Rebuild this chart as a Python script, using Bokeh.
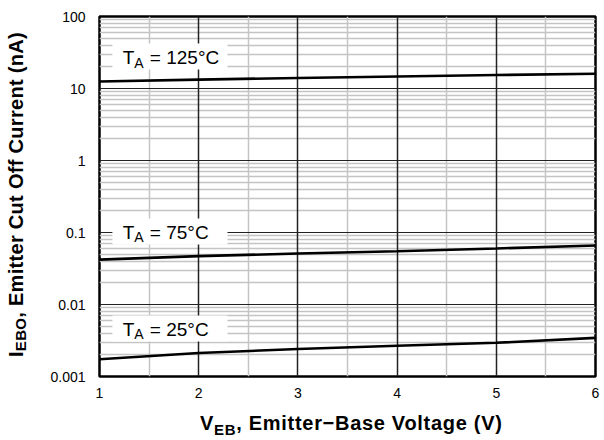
import math
from bokeh.plotting import figure
from bokeh.models import FixedTicker, Grid, Label, BoxAnnotation, Div
from bokeh.layouts import row, column
from bokeh.embed import file_html
from bokeh.resources import INLINE

# ---------------- data ----------------
v_eb = [1, 2, 3, 4, 5, 6]
i_125 = [12.5, 13.3, 14.0, 14.7, 15.4, 16.0]
i_75 = [0.042, 0.047, 0.051, 0.055, 0.060, 0.066]
i_25 = [0.00174, 0.00212, 0.00241, 0.00267, 0.00294, 0.00344]
temp_labels = ["125°C", "75°C", "25°C"]

x_ticks = [1, 2, 3, 4, 5, 6]
x_tick_labels = ["1", "2", "3", "4", "5", "6"]
y_ticks = [0.001, 0.01, 0.1, 1, 10, 100]
y_tick_labels = ["0.001", "0.01", "0.1", "1", "10", "100"]
x_minor = [1.5, 2.5, 3.5, 4.5, 5.5]
y_minor = [m * d for d in [0.001, 0.01, 0.1, 1, 10] for m in range(2, 10)]

x_title_main, x_title_sub, x_title_rest = "V", "EB", ", Emitter\u2212Base Voltage (V)"
y_title_main, y_title_sub, y_title_rest = "I", "EBO", ", Emitter Cut Off Current (nA)"

FONT = "Liberation Sans"
CSS_FONT = "'Liberation Sans', Arial, Helvetica, sans-serif"

YW = 32
PW = 604 - YW
p = figure(width=PW, height=410, x_range=(1, 6), y_range=(0.001, 100),
           y_axis_type="log", output_backend="svg", toolbar_location=None,
           min_border_left=99 - YW, min_border_right=9, min_border_top=16,
           min_border_bottom=34)
p.grid.visible = False
p.outline_line_color = "black"
p.outline_line_width = 2.5
p.background_fill_color = "white"
p.border_fill_color = "white"

for ax, ticks, labels in [(p.xaxis[0], x_ticks, x_tick_labels), (p.yaxis[0], y_ticks, y_tick_labels)]:
    ax.ticker = FixedTicker(ticks=ticks)
    ax.major_label_overrides = {t: l for t, l in zip(ticks, labels)}
    ax.axis_line_color = None
    ax.major_tick_in = 0
    ax.major_tick_out = 0
    ax.minor_tick_in = 0
    ax.minor_tick_out = 0
    ax.major_label_text_font = FONT
    ax.major_label_text_font_size = "14px"
    ax.major_label_text_color = "black"
    ax.axis_label = None
p.xaxis.major_label_standoff = 11
p.yaxis.major_label_standoff = 14

# grids: minor gray first, then major black
p.add_layout(Grid(dimension=0, ticker=FixedTicker(ticks=x_minor), grid_line_color="#c4c4c4", grid_line_width=1.5))
p.add_layout(Grid(dimension=1, ticker=FixedTicker(ticks=y_minor), grid_line_color="#c4c4c4", grid_line_width=1.5))
p.add_layout(Grid(dimension=0, ticker=FixedTicker(ticks=x_ticks), grid_line_color="#222222", grid_line_width=1.5))
p.add_layout(Grid(dimension=1, ticker=FixedTicker(ticks=y_ticks), grid_line_color="#222222", grid_line_width=1.2))

for series in [i_125, i_75, i_25]:
    p.line(v_eb, series, line_color="black", line_width=2.6)

# temperature labels with white boxes
label_base = [21.5, 0.080, 0.0036]  # baseline in data units
for txt, base in zip(temp_labels, label_base):
    lg = math.log10(base)
    top = 10 ** (lg + 21 / 72.0)
    bot = 10 ** (lg - 5 / 72.0)
    p.add_layout(BoxAnnotation(left=1.13, right=2.29, top=top, bottom=bot,
                               fill_color="white", fill_alpha=1.0, line_color=None))
    p.add_layout(Label(x=1.235, y=base, y_offset=7, text="T", text_font=FONT, text_font_size="19px",
                       text_baseline="alphabetic", text_align="left", text_color="black"))
    p.add_layout(Label(x=1.235, y=base, x_offset=11.5, y_offset=2, text="A", text_font=FONT,
                       text_font_size="14px", text_baseline="alphabetic", text_align="left",
                       text_color="black"))
    p.add_layout(Label(x=1.235, y=base, x_offset=27, y_offset=7, text="= " + txt, text_font=FONT,
                       text_font_size="19px", text_baseline="alphabetic", text_align="left",
                       text_color="black"))

# axis titles as HTML text with subscripts
xdiv = Div(width=PW, height=30, margin=(0, 0, 0, 0), text=(
    f'<div style="font-family:{CSS_FONT};font-weight:bold;font-size:20px;color:black;'
    f'letter-spacing:0.7px;white-space:nowrap;padding-left:{200 - YW}px;line-height:26px;">'
    f'{x_title_main}<sub style="font-size:15px;">{x_title_sub}</sub>{x_title_rest}</div>'))
ydiv = Div(width=YW, height=440, margin=(0, 0, 0, 0), text=(
    f'<div style="font-family:{CSS_FONT};font-weight:bold;font-size:20px;color:black;'
    f'letter-spacing:0.3px;white-space:nowrap;writing-mode:vertical-rl;transform:rotate(180deg);'
    f'width:{YW}px;height:357px;line-height:{YW}px;text-align:left;">'
    f'{y_title_main}<sub style="font-size:15px;">{y_title_sub}</sub>{y_title_rest}</div>'))

layout = row(ydiv, column(p, xdiv))
open("out.html", "w").write(file_html(layout, INLINE))
